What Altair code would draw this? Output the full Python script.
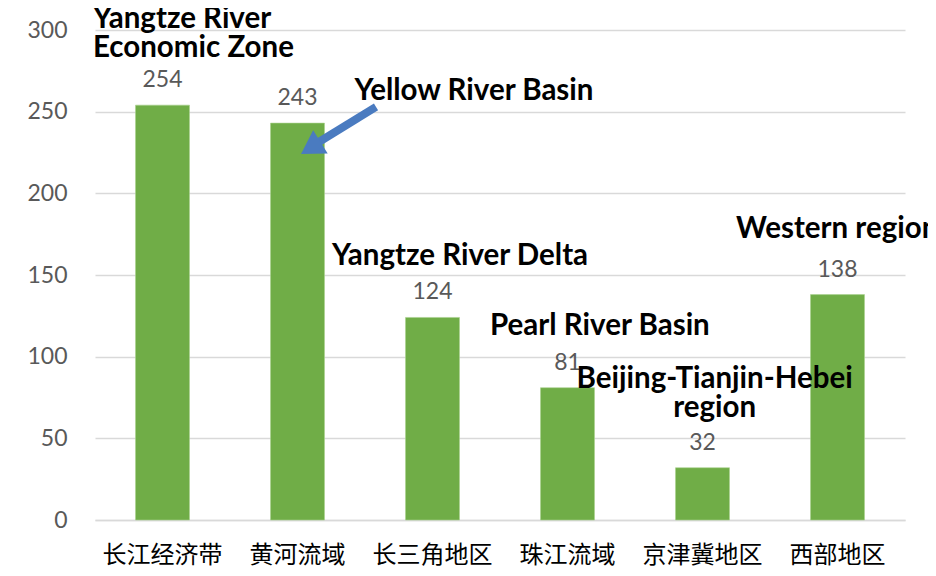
import altair as alt
import pandas as pd

# ---- data ----
categories = ["长江经济带", "黄河流域", "长三角地区", "珠江流域", "京津冀地区", "西部地区"]
values = [254, 243, 124, 81, 32, 138]

# annotations (position along the category axis in category units, value axis)
ann_left_text = [["Yangtze River", "Economic Zone"], ["Western region"]]
ann_left_x = [-0.015, 4.748]
ann_left_y = [301, 172.6]

ann_center_text = [["Yellow River Basin"], ["Yangtze River Delta"], ["Pearl River Basin"],
                   ["Beijing-Tianjin-Hebei", "region"]]
ann_center_x = [2.807, 2.704, 3.74, 4.59]
ann_center_y = [257, 156, 113, 80.8]

# arrow pointing at the Yellow River bar
arrow_shaft_x = [2.0815, 1.622]
arrow_shaft_y = [252.9, 229.6]
arrow_tip_x = [1.526]
arrow_tip_y = [224.1]

bars_df = pd.DataFrame({"cat": categories, "val": values})
annL_df = pd.DataFrame({"t": ann_left_text, "x": ann_left_x, "y": ann_left_y})
annC_df = pd.DataFrame({"t": ann_center_text, "x": ann_center_x, "y": ann_center_y})
shaft_df = pd.DataFrame({"x": arrow_shaft_x, "y": arrow_shaft_y, "o": [0, 1]})
tip_df = pd.DataFrame({"x": arrow_tip_x, "y": arrow_tip_y})

GREEN = "#70ad47"
BLUE = "#4a7bc0"
NUMFONT = "Lato"
ANNSIZE = 29.5

yscale = alt.Scale(domain=[0, 300], nice=False)
xband = alt.Scale(paddingInner=0.6, paddingOuter=0.3)
xq = alt.Scale(domain=[0, 6], nice=False, zero=False)

bars = alt.Chart(bars_df).mark_bar(color=GREEN, stroke="#a9d18e", strokeWidth=0.6).encode(
    x=alt.X("cat:N", sort=categories, scale=xband, title=None,
            axis=alt.Axis(labelAngle=0, labelFont="Noto Sans CJK SC", labelFontSize=24,
                          labelColor="#000000", labelPadding=23, ticks=False,
                          domainColor="#d9d9d9", domainWidth=1.5, grid=False)),
    y=alt.Y("val:Q", scale=yscale, title=None,
            axis=alt.Axis(values=[0, 50, 100, 150, 200, 250, 300], labelFont=NUMFONT,
                          labelFontSize=23, labelColor="#595959", labelPadding=28,
                          ticks=False, domain=False, gridColor="#d9d9d9", gridWidth=1.5)),
)

vals = alt.Chart(bars_df).mark_text(font=NUMFONT, fontSize=23, color="#595959",
                                    baseline="alphabetic", dy=-18).encode(
    x=alt.X("cat:N", sort=categories, scale=xband, axis=None),
    y=alt.Y("val:Q", scale=yscale),
    text=alt.Text("val:Q"),
)

annL = alt.Chart(annL_df).mark_text(font=NUMFONT, fontSize=ANNSIZE, fontWeight="bold", color="#000000",
                                    align="left", baseline="alphabetic", lineHeight=29).encode(
    x=alt.X("x:Q", scale=xq, axis=None),
    y=alt.Y("y:Q", scale=yscale),
    text="t",
)

annC = alt.Chart(annC_df).mark_text(font=NUMFONT, fontSize=ANNSIZE, fontWeight="bold", color="#000000",
                                    align="center", baseline="alphabetic", lineHeight=29).encode(
    x=alt.X("x:Q", scale=xq, axis=None),
    y=alt.Y("y:Q", scale=yscale),
    text="t",
)

shaft = alt.Chart(shaft_df).mark_line(color=BLUE, strokeWidth=8, strokeCap="butt").encode(
    x=alt.X("x:Q", scale=xq, axis=None),
    y=alt.Y("y:Q", scale=yscale),
    order="o:Q",
)

tip = alt.Chart(tip_df).mark_point(shape="M0,0L0.6,1L-0.6,1Z", size=2100, filled=True,
                                   color=BLUE, opacity=1, angle=238, strokeWidth=0).encode(
    x=alt.X("x:Q", scale=xq, axis=None),
    y=alt.Y("y:Q", scale=yscale),
)

chart = alt.layer(bars, vals, annL, annC, shaft, tip).resolve_scale(x="independent").properties(
    width=810, height=490,
    autosize=alt.AutoSizeParams(type="none"),
    padding={"left": 87, "top": 22, "right": 23, "bottom": 48},
    background="white",
).configure_view(stroke=None)

chart.save("out.html", embed_options={"renderer": "svg", "actions": False})
